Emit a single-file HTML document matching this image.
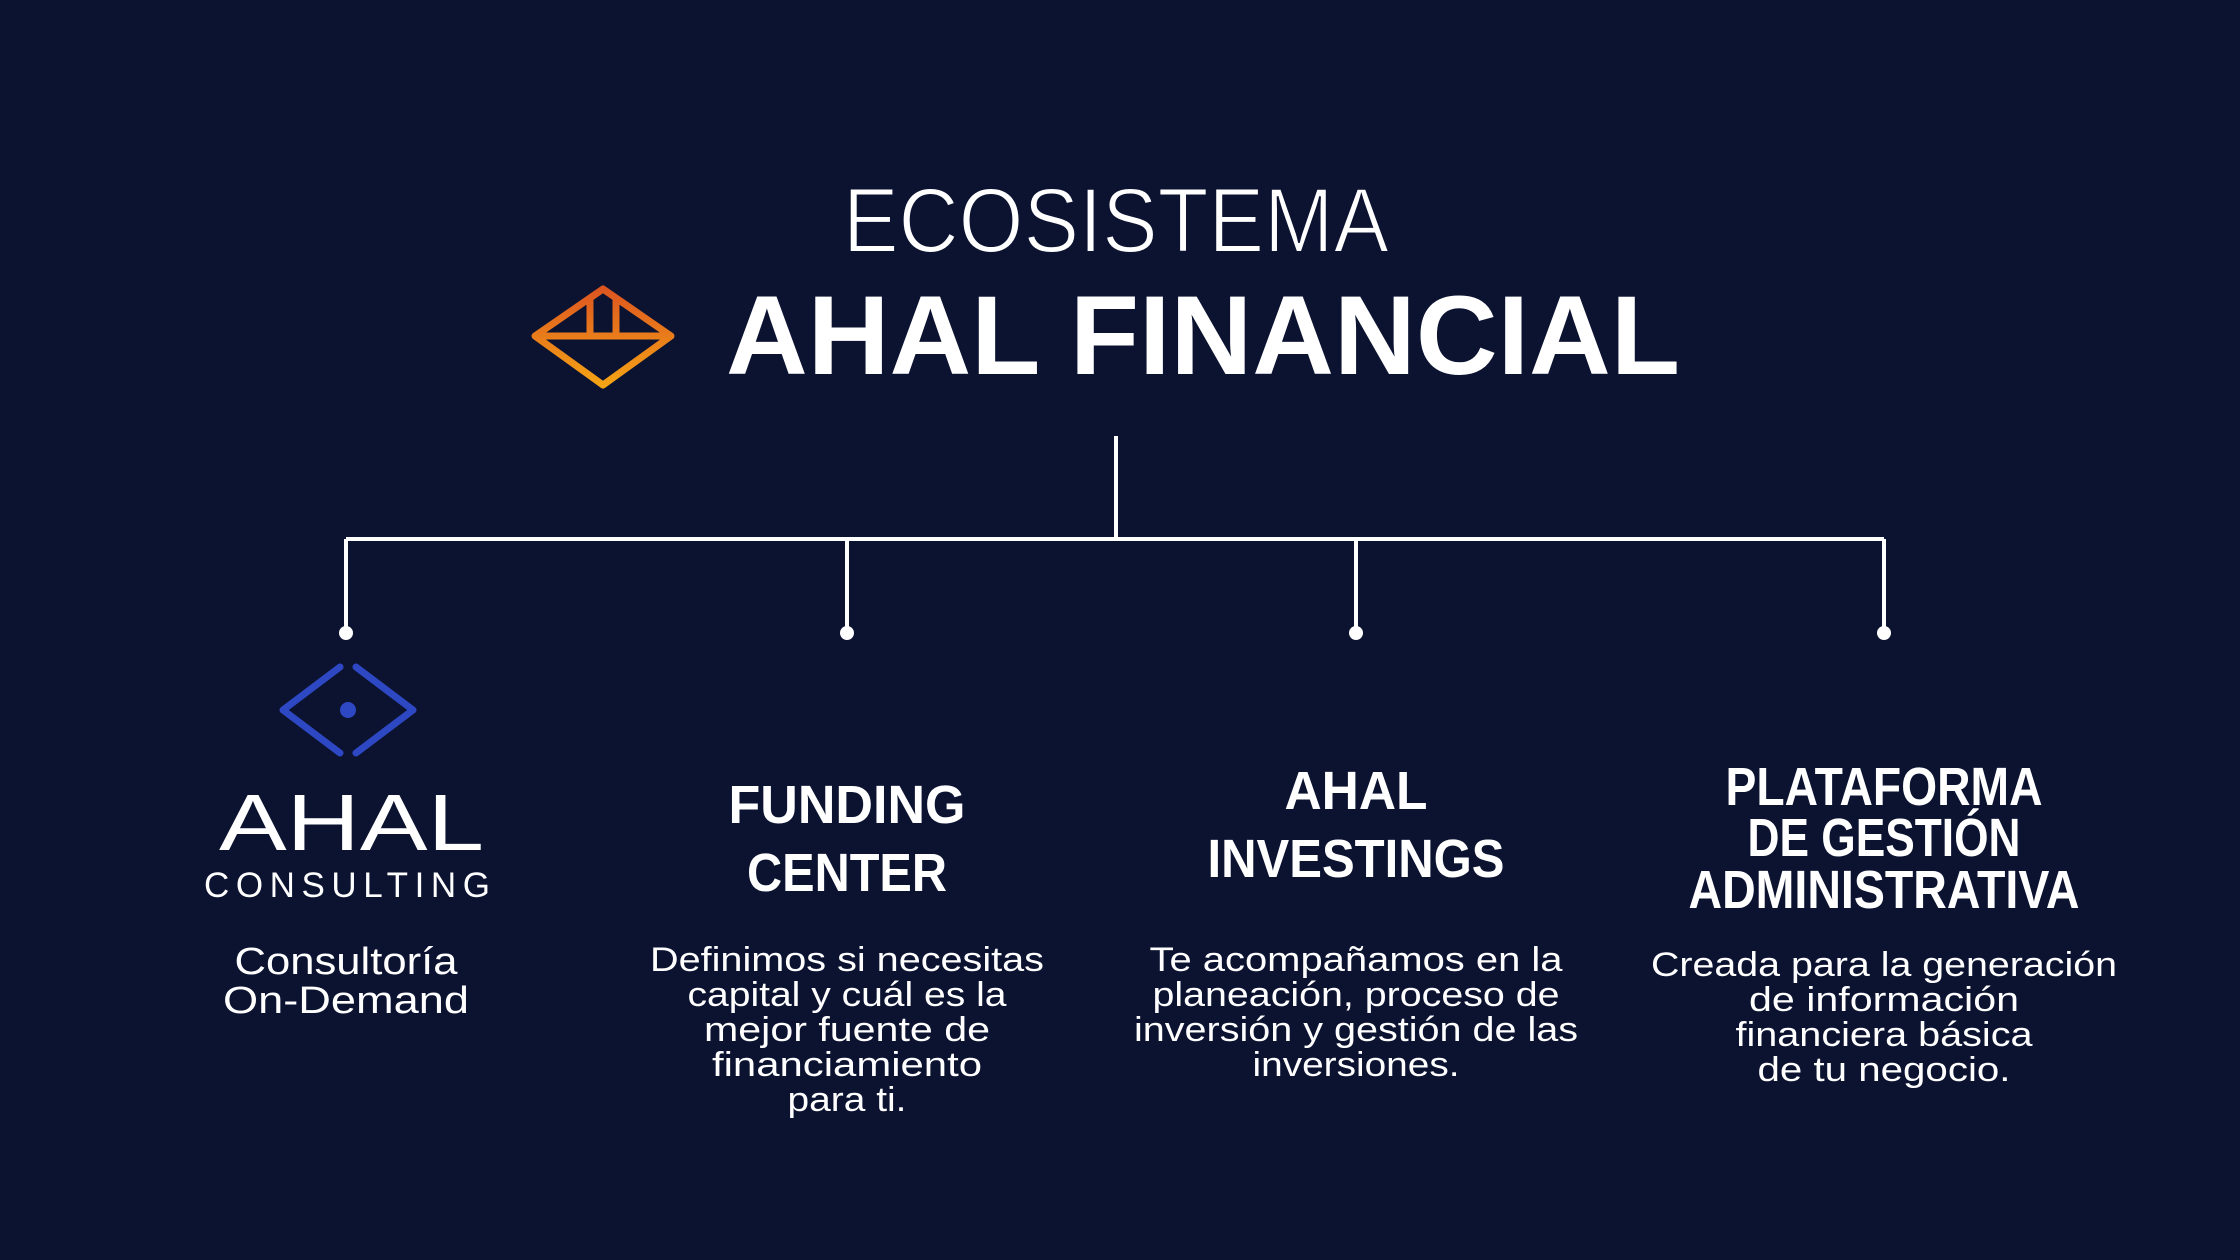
<!DOCTYPE html>
<html><head><meta charset="utf-8"><style>
html,body{margin:0;padding:0;background:#0c1331;}
svg{display:block}
text{font-family:"Liberation Sans",sans-serif;fill:#fff}
</style></head><body>
<svg width="2240" height="1260" viewBox="0 0 2240 1260" xmlns="http://www.w3.org/2000/svg">
<defs>
<linearGradient id="og" gradientUnits="userSpaceOnUse" x1="0" y1="287" x2="0" y2="388">
<stop offset="0" stop-color="#dc5420"/><stop offset="1" stop-color="#f6a615"/>
</linearGradient>
</defs>
<rect width="2240" height="1260" fill="#0c1331"/>
<text x="1116" y="252" font-size="92" text-anchor="middle" textLength="546" lengthAdjust="spacingAndGlyphs" stroke="#0c1331" stroke-width="2">ECOSISTEMA</text>
<text x="726" y="374" font-size="112" font-weight="bold" textLength="954" lengthAdjust="spacingAndGlyphs">AHAL FINANCIAL</text>
<!-- orange logo -->
<g fill="none" stroke="url(#og)" stroke-width="7" stroke-linejoin="round" stroke-linecap="round">
<path d="M603 289 L671 336 L603 385 L535 336 Z"/>
<line x1="537" y1="336" x2="669" y2="336"/>
<line x1="590" y1="299" x2="590" y2="334"/>
<line x1="616" y1="299" x2="616" y2="334"/>
</g>
<!-- connectors -->
<g stroke="#fff" stroke-width="4" fill="none">
<line x1="1116" y1="436" x2="1116" y2="539"/>
<line x1="346" y1="539" x2="1884" y2="539"/>
<line x1="346" y1="539" x2="346" y2="633"/>
<line x1="847" y1="539" x2="847" y2="633"/>
<line x1="1356" y1="539" x2="1356" y2="633"/>
<line x1="1884" y1="539" x2="1884" y2="633"/>
</g>
<g fill="#fff">
<circle cx="346" cy="633" r="7"/><circle cx="847" cy="633" r="7"/>
<circle cx="1356" cy="633" r="7"/><circle cx="1884" cy="633" r="7"/>
</g>
<!-- blue icon -->
<g fill="none" stroke="#2e48c4" stroke-width="7" stroke-linecap="round" stroke-linejoin="round">
<path d="M340 667 L283 710 L340 753"/>
<path d="M356 667 L413 710 L356 753"/>
</g>
<circle cx="348" cy="710" r="8" fill="#2e48c4"/>
<text x="219" y="850" font-size="80" textLength="265" lengthAdjust="spacingAndGlyphs">AHAL</text>
<text x="204" y="897" font-size="35" textLength="286" lengthAdjust="spacing">CONSULTING</text>
<g font-size="38" text-anchor="middle" lengthAdjust="spacingAndGlyphs">
<text x="346" y="974" textLength="223" lengthAdjust="spacingAndGlyphs">Consultoría</text>
<text x="346" y="1013" textLength="246" lengthAdjust="spacingAndGlyphs">On-Demand</text>
</g>
<!-- headings -->
<g font-size="54" font-weight="bold" text-anchor="middle">
<text x="847" y="823" textLength="237" lengthAdjust="spacingAndGlyphs">FUNDING</text>
<text x="847" y="891" textLength="200" lengthAdjust="spacingAndGlyphs">CENTER</text>
<text x="1356" y="809" textLength="143" lengthAdjust="spacingAndGlyphs">AHAL</text>
<text x="1356" y="877" textLength="297" lengthAdjust="spacingAndGlyphs">INVESTINGS</text>
<text x="1884" y="805" textLength="317" lengthAdjust="spacingAndGlyphs">PLATAFORMA</text>
<text x="1884" y="856" textLength="273" lengthAdjust="spacingAndGlyphs">DE GESTIÓN</text>
<text x="1884" y="908" textLength="391" lengthAdjust="spacingAndGlyphs">ADMINISTRATIVA</text>
</g>
<g font-size="34" text-anchor="middle">
<text x="847" y="971" textLength="394" lengthAdjust="spacingAndGlyphs">Definimos si necesitas</text>
<text x="847" y="1006" textLength="319" lengthAdjust="spacingAndGlyphs">capital y cuál es la</text>
<text x="847" y="1041" textLength="286" lengthAdjust="spacingAndGlyphs">mejor fuente de</text>
<text x="847" y="1076" textLength="270" lengthAdjust="spacingAndGlyphs">financiamiento</text>
<text x="847" y="1111" textLength="119" lengthAdjust="spacingAndGlyphs">para ti.</text>
<text x="1356" y="971" textLength="413" lengthAdjust="spacingAndGlyphs">Te acompañamos en la</text>
<text x="1356" y="1006" textLength="407" lengthAdjust="spacingAndGlyphs">planeación, proceso de</text>
<text x="1356" y="1041" textLength="444" lengthAdjust="spacingAndGlyphs">inversión y gestión de las</text>
<text x="1356" y="1076" textLength="207" lengthAdjust="spacingAndGlyphs">inversiones.</text>
<text x="1884" y="976" textLength="466" lengthAdjust="spacingAndGlyphs">Creada para la generación</text>
<text x="1884" y="1011" textLength="270" lengthAdjust="spacingAndGlyphs">de información</text>
<text x="1884" y="1046" textLength="297" lengthAdjust="spacingAndGlyphs">financiera básica</text>
<text x="1884" y="1081" textLength="253" lengthAdjust="spacingAndGlyphs">de tu negocio.</text>
</g>
</svg>
</body></html>
